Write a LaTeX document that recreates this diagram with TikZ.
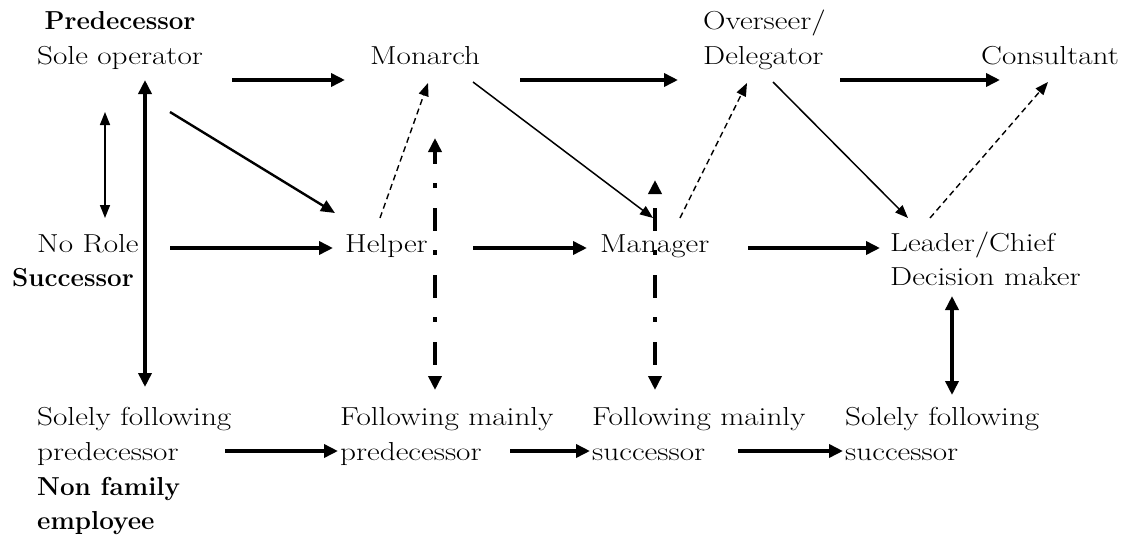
\documentclass[tikz,border=0pt]{standalone}
\usepackage{fontspec}
\setmainfont{Latin Modern Roman}[FakeStretch=1.2,BoldFeatures={FakeStretch=1.0}]
\usetikzlibrary{arrows.meta,calc}
\begin{document}
\begin{tikzpicture}[x=1pt,y=-1pt,
  lbl/.style={anchor=base west,inner sep=0pt,font=\fontsize{26}{30}\selectfont},
  bl/.style={lbl,font=\fontsize{26}{30}\selectfont\bfseries},
  thickarr/.style={line width=4pt,-{Triangle[length=14pt,width=13pt]}},
  medarr/.style={line width=2.4pt,-{Triangle[length=14pt,width=12pt]}},
  thinarr/.style={line width=1.5pt,-{Triangle[length=13pt,width=10pt]}},
  dasharr/.style={line width=1.4pt,dash pattern={on 6pt off 4pt},-{Triangle[length=13pt,width=10pt]}},
  dotdash/.style={line width=4pt,{Triangle[length=14pt,width=13pt]}-{Triangle[length=14pt,width=13pt]}},
  thindbl/.style={line width=1.5pt,{Triangle[length=13pt,width=10pt]}-{Triangle[length=13pt,width=10pt]}},
  thickdbl/.style={line width=4pt,{Triangle[length=14pt,width=13pt]}-{Triangle[length=14pt,width=13pt]}}]
\useasboundingbox (0,0) rectangle (1124,536);
% nodes
\node[bl,anchor=base] (pred) at (120,29) {Predecessor};
\node[lbl] (sole) at (37,64) {Sole operator};
\node[lbl] (monarch) at (370,64) {Monarch};
\node[lbl] (over1) at (703,29) {Overseer/};
\node[lbl] (over2) at (703,64) {Delegator};
\node[lbl] (consult) at (981,64) {Consultant};
\node[lbl] (norole) at (37,252) {No Role};
\node[bl] (succ) at (12,286) {Successor};
\node[lbl] (helper) at (345,252) {Helper};
\node[lbl] (manager) at (600,252) {Manager};
\node[lbl] (lead1) at (890,251) {Leader/Chief};
\node[lbl] (lead2) at (890,285) {Decision maker};
\node[lbl] (sf1) at (37,425) {Solely following};
\node[lbl] (sf2) at (37,460) {predecessor};
\node[bl] (nf1) at (37,495) {Non family};
\node[bl] (nf2) at (37,529) {employee};
\node[lbl] (fp1) at (340,425) {Following mainly};
\node[lbl] (fp2) at (340,460) {predecessor};
\node[lbl] (fs1) at (592,425) {Following mainly};
\node[lbl] (fs2) at (592,460) {successor};
\node[lbl] (ss1) at (845,425) {Solely following};
\node[lbl] (ss2) at (845,460) {successor};
% top row arrows
\draw[thickarr] ($(sole.base west)+(195,16)$) -- ($(monarch.base west)+(-25,16)$);
\draw[thickarr] ($(monarch.base west)+(150,16)$) -- ($(over2.base west)+(-25,16)$);
\draw[thickarr] ($(over2.base west)+(137,16)$) -- ($(consult.base west)+(19,16)$);
% verticals left
\draw[thickdbl] ($(sole.base west)+(108,16)$) -- ($(sf1.base west)+(108,-38)$);
\draw[thindbl] ($(sole.base west)+(68,48)$) -- ($(norole.base west)+(68,-34)$);
% middle row
\draw[medarr] ($(sole.base west)+(133,48)$) -- ($(helper.base west)+(-10,-39)$);
\draw[thickarr] ($(norole.base west)+(133,-4)$) -- ($(helper.base west)+(-12,-4)$);
\draw[thickarr] ($(helper.base west)+(128,-4)$) -- ($(manager.base west)+(-13,-4)$);
\draw[thickarr] ($(manager.base west)+(148,-4)$) -- ($(lead1.base west)+(-10,-3)$);
% diagonals
\draw[dasharr] ($(helper.base west)+(35,-34)$) -- ($(monarch.base west)+(58,19)$);
\draw[thinarr] ($(monarch.base west)+(103,18)$) -- ($(manager.base west)+(53,-34)$);
\draw[dasharr] ($(manager.base west)+(80,-34)$) -- ($(over2.base west)+(44,19)$);
\draw[thinarr] ($(over2.base west)+(70,18)$) -- ($(lead1.base west)+(18,-33)$);
\draw[dasharr] ($(lead1.base west)+(40,-33)$) -- ($(consult.base west)+(67,18)$);
% dash-dot verticals
\draw[dotdash,dash pattern={on 23pt off 19pt on 5pt off 20pt},dash phase=10pt] ($(fp1.base west)+(95,-287)$) -- ($(fp1.base west)+(95,-35)$);
\draw[dotdash,dash pattern={on 23pt off 19pt on 5pt off 20pt},dash phase=52pt] ($(fs1.base west)+(63,-245)$) -- ($(fs1.base west)+(63,-35)$);
% leader to solely following successor
\draw[thickdbl] ($(lead2.base west)+(62,11)$) -- ($(ss1.base west)+(107,-30)$);
% bottom row
\draw[thickarr] ($(sf2.base west)+(188,-9)$) -- ($(fp2.base west)+(-2,-9)$);
\draw[thickarr] ($(fp2.base west)+(170,-9)$) -- ($(fs2.base west)+(-2,-9)$);
\draw[thickarr] ($(fs2.base west)+(146,-9)$) -- ($(ss2.base west)+(-2,-9)$);
\end{tikzpicture}
\end{document}
